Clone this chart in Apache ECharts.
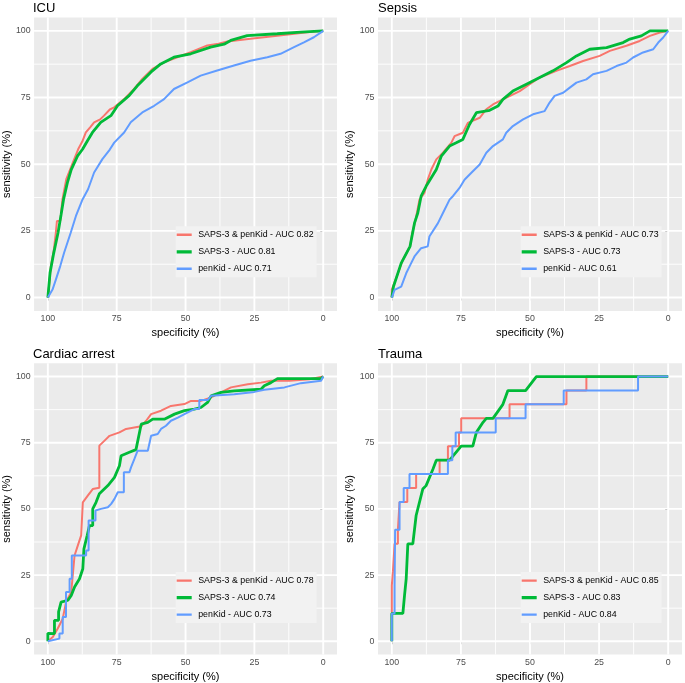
<!DOCTYPE html>
<html>
<head>
<meta charset="utf-8">
<script src="https://cdn.jsdelivr.net/npm/echarts@6/dist/echarts.min.js"></script>
<style>
html,body{margin:0;padding:0;background:#fff;}
#chart{width:685px;height:683px;}
</style>
</head>
<body>
<div id="chart"></div>
<script>
// ---------- data: [specificity %, sensitivity %] ----------
const panelTitles = ["ICU", "Sepsis", "Cardiac arrest", "Trauma"];
const tickValues = [0, 25, 50, 75, 100];
const minorValues = [12.5, 37.5, 62.5, 87.5];
const seriesLabels = [
  ["SAPS-3 & penKid - AUC 0.82", "SAPS-3 - AUC 0.81", "penKid - AUC 0.71"],
  ["SAPS-3 & penKid - AUC 0.73", "SAPS-3 - AUC 0.73", "penKid - AUC 0.61"],
  ["SAPS-3 & penKid - AUC 0.78", "SAPS-3 - AUC 0.74", "penKid - AUC 0.73"],
  ["SAPS-3 & penKid - AUC 0.85", "SAPS-3 - AUC 0.83", "penKid - AUC 0.84"]
];

const icuCombined = [[100,0],[99.5,5],[98.9,11.8],[97.8,18],[97.1,24.3],[96.7,28.7],[95.5,28.7],[94.7,36.8],[93.3,44.4],[91.4,49.4],[89,55.6],[87.5,58.5],[86.2,61.9],[84.5,64],[83.2,65.7],[81,66.8],[79.6,68.2],[77.5,70.5],[75.9,71.3],[72.3,74.4],[68.7,78.2],[65.7,82],[62,85.7],[57.8,88.2],[53,90.1],[48.1,92],[42.1,94.5],[38,95.2],[34.8,96],[26.4,97],[16.7,98.2],[5.8,99.5],[0,100]];
const icuSaps = [[100,0],[99.2,9.3],[98,16],[96.3,24.3],[95.2,31],[94.3,36.8],[92.9,43.1],[91.5,48],[89.2,53.1],[87.4,55.6],[85.5,59],[83.8,61.9],[80.8,65.7],[77.1,68.2],[74.7,71.9],[70.5,75.7],[67.5,79.4],[62.6,84.5],[59,87.6],[54.2,90.1],[48.1,91.4],[40.9,93.9],[36,95],[33.6,96.4],[27.6,98.2],[16.7,98.9],[8.2,99.5],[0,100]];
const icuPenkid = [[100,0],[98.3,3],[97,7],[95.5,11.8],[94.1,16.8],[91.7,24.3],[89.8,30.6],[87.4,36.8],[85.4,40.6],[83.2,46.9],[80.2,51.9],[77.5,55.5],[75.9,58.1],[72.3,61.9],[69.9,65.7],[65.7,69.4],[61.4,71.9],[57.8,74.4],[54.2,78.2],[49.3,80.7],[44.5,83.2],[38.5,85.1],[32.4,87],[26.4,88.8],[20.3,90.1],[15.5,91.4],[10.6,93.9],[7,95.7],[3.4,97.6],[0,100]];

const sepsisCombined = [[100,0],[100,3],[99.6,4.1],[97.8,9.1],[96,14.2],[93.4,19.2],[92.6,24.2],[91.4,29.2],[90,36.7],[88.2,39.2],[87,44.2],[85.7,48],[83.9,51.8],[81.5,54.3],[78.5,58],[77.3,60.5],[74.3,61.8],[72.5,65.5],[68.2,67.4],[65.8,70.6],[63.4,72.4],[59.8,74.3],[53.7,77.4],[50.1,80],[46.5,82.5],[40.5,85],[35.6,86.8],[30.8,88.7],[24.8,90.6],[21.1,92.5],[15.1,94.4],[10.3,96.2],[6.6,98.1],[3,99.4],[0,100]];
const sepsisSaps = [[100,0],[99.4,4.1],[96.6,12.9],[93.4,19.2],[91.8,27.9],[90.6,31.7],[89.4,38],[87.6,41.7],[83.9,48],[82.1,53],[79.1,56.8],[76.7,58],[74.3,59.3],[71.9,64.9],[69.4,69.3],[64.6,70.2],[61.6,71.8],[59.8,74.3],[56.2,77.4],[51.3,80],[46.5,82.5],[41.7,85],[36.8,88.1],[33.2,90.6],[28.4,93.1],[22.3,93.7],[16.3,95.6],[13.9,96.9],[9.7,98.1],[6.6,100],[0,100]];
const sepsisPenkid = [[100,0],[99,2.9],[96.6,4.1],[94.8,9.1],[93,12.9],[91.8,15.4],[89.4,18.5],[87,19.2],[86.4,22.9],[83.3,27.9],[81.5,31.7],[79.1,36.7],[77.9,38],[75.5,41.1],[73.7,44.2],[71.3,46.7],[68.2,49.9],[65.8,54.3],[63.4,56.8],[59.8,59.3],[58.6,61.8],[56.2,64.3],[52.5,66.8],[48.9,68.7],[44.7,69.9],[42.9,73.1],[41.1,75.6],[38,76.8],[35.6,78.7],[33.2,80.6],[29.6,81.8],[27.2,83.7],[22.3,85],[18.7,86.8],[15.1,88.1],[12.7,90],[9.1,91.9],[5.4,93.1],[3.6,95.6],[1.8,97.5],[0,100]];

const cardiacCombined = [[100,0],[98.2,1.6],[96.4,4.8],[94.6,8.5],[93.4,14.8],[91.5,18.6],[90.3,32.4],[89.1,36.2],[87.9,40],[87.3,52.5],[85.5,55],[83.7,57.5],[81.3,58],[81.3,73.9],[79.4,75.8],[77.6,77.6],[74,78.9],[71.6,80.2],[66.1,81.2],[64.3,83.3],[62.5,85.8],[58.9,87.1],[55.3,88.9],[50.4,89.6],[48,90.8],[44.4,90.8],[40.7,92.1],[37.1,94],[33.5,95.9],[27.4,97.1],[22.6,97.7],[19,98.4],[12.3,98.4],[5,99],[0,100]];
const cardiacSaps = [[100,0],[100,3],[97.6,2.9],[97.6,7.9],[96.1,7.9],[96.1,11.1],[95.2,14.8],[92.7,15.5],[91.5,17.3],[90.3,20.5],[88.5,23.6],[87.3,27.4],[86.9,34.9],[85.7,40],[84.9,43.7],[83.7,43.7],[83.7,50],[82.5,52.5],[81.3,55.7],[78.2,58.8],[75.8,61.9],[74,66.3],[73.4,70.1],[70.4,71.4],[68,72.4],[66.1,82],[63.7,82.7],[61.9,83.9],[57.7,83.9],[54,85.8],[50.4,87.1],[46.8,87.7],[44.4,88.3],[42,90.2],[40.7,92.7],[37.1,94],[32.3,94.6],[22.6,95.2],[21.4,96.5],[19,97.7],[16.6,99.2],[8.1,99.2],[0.8,99.2],[0,100]];
const cardiacPenkid = [[100,0],[95.8,1],[95.8,2.9],[94.6,2.9],[94.6,9.2],[93.4,9.2],[93.4,18.6],[92.1,18.6],[92.1,23.6],[91.3,23.6],[91.3,32.4],[86.1,32.4],[86.1,34.3],[85.2,34.3],[85.2,45.6],[82.7,45.6],[82.7,49.4],[80.7,50],[78.2,50.6],[77,51.9],[75.8,53.8],[74.6,56.3],[72.4,56.3],[72.4,63.8],[70.4,63.8],[69.8,65.7],[68.6,68.8],[67.4,72],[63.7,72],[62.5,77.6],[60.1,78.3],[58.9,80.2],[57.1,81.4],[55.3,83.3],[52.8,84.5],[50.4,85.8],[46.8,87.7],[45,87.7],[45,91.1],[42,91.1],[40.7,92.7],[32.3,93.3],[25,94.2],[21.4,95],[14.1,95.9],[8.1,97.5],[0.8,98.4],[0,100]];

const traumaCombined = [[100,0],[100,21.1],[99.6,21.1],[99.6,26.3],[99,26.3],[99,36.8],[97.8,36.8],[97.8,42.1],[97.2,42.1],[97.2,52.6],[94.4,52.6],[94.4,57.9],[91.2,57.9],[91.2,63.2],[82.7,63.2],[82.7,68.4],[79.7,68.4],[79.7,73.7],[75.7,73.7],[75.7,78.9],[74.9,78.9],[74.9,84.2],[57.4,84.2],[57.4,89.5],[36.8,89.5],[36.8,94.7],[29.6,94.7],[29.6,100],[0,100]];
const traumaSaps = [[100,0],[100,10.5],[96,10.5],[95.4,17.3],[94.8,23.6],[94.2,36.8],[92.4,36.8],[91.2,47.5],[88.8,57.5],[87.6,58.8],[85.1,65.1],[83.9,68.4],[79.1,68.4],[74.9,73.7],[70.7,73.7],[69.4,78.9],[67,82.7],[65.8,84.2],[63.4,84.2],[59.8,89.5],[58,94.7],[51.6,94.7],[47.7,100],[0,100]];
const traumaPenkid = [[100,0],[100,10.5],[99,10.5],[99,21.1],[98.8,21.1],[98.8,42.1],[97.2,42.1],[97.2,52.6],[95.7,52.6],[95.7,57.9],[93.6,57.9],[93.6,63.2],[79.7,63.2],[79.7,68.4],[78.1,68.4],[78.1,73.7],[76.9,73.7],[76.9,78.9],[62.4,78.9],[62.4,84.2],[51.6,84.2],[51.6,89.5],[37.8,89.5],[37.8,94.7],[10.9,94.7],[10.9,100],[0,100]];

const panelData = [
  [icuCombined, icuSaps, icuPenkid],
  [sepsisCombined, sepsisSaps, sepsisPenkid],
  [cardiacCombined, cardiacSaps, cardiacPenkid],
  [traumaCombined, traumaSaps, traumaPenkid]
];
const lineColors = ["#F8766D", "#00BA38", "#619CFF"];
const lineWidths = [2, 2.8, 2];

// ---------- layout ----------
const FONT = "'Liberation Sans', Arial, Helvetica, sans-serif";
const panels = [
  {left: 33, top: 17.5},
  {left: 378, top: 17.5},
  {left: 33, top: 363.3},
  {left: 378, top: 363.3}
];
const PW = 304, PH = 293.4;

// grid line specs: [value, isVertical(1)/horizontal(0), isMajor]
const gridSpecs = [];
minorValues.forEach(v => { gridSpecs.push([v, 1, 0]); gridSpecs.push([v, 0, 0]); });
tickValues.forEach(v => { gridSpecs.push([v, 1, 1]); gridSpecs.push([v, 0, 1]); });

function gridRender(params, api) {
  const cs = params.coordSys;
  const v = api.value(0), vert = api.value(1), major = api.value(2);
  let shape;
  if (vert) {
    const x = api.coord([v, 50])[0];
    shape = {x1: x, y1: cs.y, x2: x, y2: cs.y + cs.height};
  } else {
    const y = api.coord([50, v])[1];
    shape = {x1: cs.x, y1: y, x2: cs.x + cs.width, y2: y};
  }
  return {type: 'line', shape: shape, silent: true,
    style: {stroke: '#FFFFFF', lineWidth: major ? 1.9 : 0.9}};
}

function legendIcon(h) {
  const a = (14 - h) / 2, b = a + h;
  return 'path://M0,0L0.01,0L0,0.01Z M0,' + a + 'L15,' + a + 'L15,' + b + 'L0,' + b + 'Z M15,14L14.99,14L15,13.99Z';
}

const grids = [], xAxes = [], yAxes = [], series = [], titles = [], legends = [];
panels.forEach((p, i) => {
  grids.push({left: p.left, top: p.top, width: PW, height: PH, show: true,
    backgroundColor: '#EBEBEB', borderWidth: 0, containLabel: false});
  const axisCommon = {
    type: 'value', gridIndex: i, min: -5, max: 105,
    axisLine: {show: false},
    splitLine: {show: false},
    axisTick: {show: true, length: 3, customValues: tickValues, lineStyle: {color: '#333333', width: 1}},
    axisLabel: {show: true, customValues: tickValues, fontSize: 8.8, color: '#4D4D4D', fontFamily: FONT, margin: 3.5},
    nameLocation: 'middle',
    nameTextStyle: {fontSize: 11, color: '#000', fontFamily: FONT}
  };
  xAxes.push(Object.assign({}, axisCommon, {inverse: true, name: 'specificity (%)', nameGap: 16.5}));
  yAxes.push(Object.assign({}, axisCommon, {name: 'sensitivity (%)', nameGap: 21, nameRotate: 90}));
  titles.push({text: panelTitles[i], left: p.left, top: p.top - 15.5, padding: 0,
    textStyle: {fontSize: 13, fontWeight: 'normal', color: '#000', fontFamily: FONT}});
  series.push({type: 'custom', name: 'grid' + i, xAxisIndex: i, yAxisIndex: i, data: gridSpecs,
    renderItem: gridRender, z: 1, silent: true, clip: false, animation: false});
  panelData[i].forEach((d, k) => {
    series.push({type: 'line', name: seriesLabels[i][k], xAxisIndex: i, yAxisIndex: i, data: d,
      showSymbol: false, symbol: 'none', z: 3 + k, animation: false,
      lineStyle: {color: lineColors[k], width: lineWidths[k], type: 'solid'}, itemStyle: {color: lineColors[k]}});
  });
  legends.push({
    data: seriesLabels[i].map((n, k) => ({name: n, icon: legendIcon(lineWidths[k] + 0.4)})),
    orient: 'vertical', left: p.left + 142.7, top: p.top + 208.8,
    backgroundColor: '#F2F2F2', padding: [1.5, 3, 1.5, 1], itemWidth: 15, itemHeight: 14, itemGap: 3,
    selectedMode: false,
    textStyle: {fontSize: 8.8, color: '#000', fontFamily: FONT, padding: [0, 0, 0, 1.5]}});
});

const chart = echarts.init(document.getElementById('chart'), null, {renderer: 'canvas'});
chart.setOption({
  backgroundColor: '#FFFFFF',
  animation: false,
  title: titles,
  grid: grids,
  xAxis: xAxes,
  yAxis: yAxes,
  legend: legends,
  series: series
});
</script>
</body>
</html>
